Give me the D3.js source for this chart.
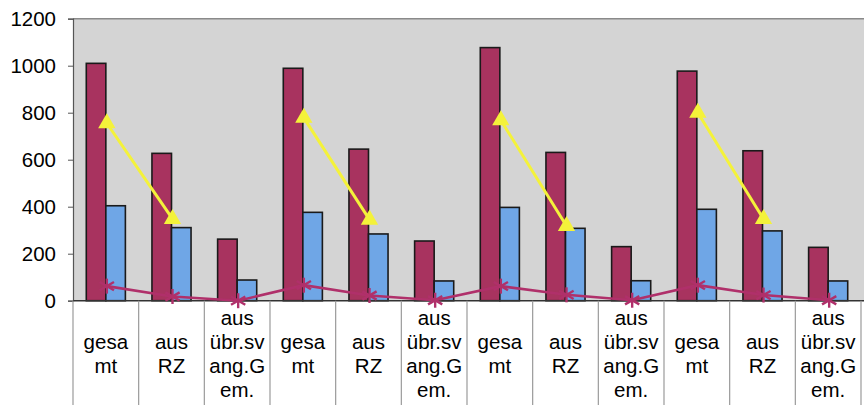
<!DOCTYPE html>
<html>
<head>
<meta charset="utf-8">
<script src="https://cdn.jsdelivr.net/npm/d3@7"></script>
<style>
  html, body { margin: 0; padding: 0; background: #fff; }
  svg { display: block; }
  text { font-family: Arial, "Liberation Sans", sans-serif; fill: #000; }
</style>
</head>
<body>
<svg id="chart" width="864" height="410"></svg>
<script>
// Category labels (each line of the wrapped label)
const categories = [
  ["gesa", "mt"], ["aus", "RZ"], ["aus", "übr.sv", "ang.G", "em."],
  ["gesa", "mt"], ["aus", "RZ"], ["aus", "übr.sv", "ang.G", "em."],
  ["gesa", "mt"], ["aus", "RZ"], ["aus", "übr.sv", "ang.G", "em."],
  ["gesa", "mt"], ["aus", "RZ"], ["aus", "übr.sv", "ang.G", "em."]
];
// Series values
const redValues    = [1010, 627, 262, 989, 645, 254, 1077, 631, 230, 977, 638, 227];
const blueValues   = [404, 311, 88, 376, 284, 84, 397, 308, 85, 389, 297, 84];
const yellowValues = [755, 348, null, 778, 345, null, 768, 318, null, 800, 348, null];
const purpleValues = [62, 18, 0, 66, 22, 2, 62, 25, 2, 66, 24, 2];
const yTicks = [0, 200, 400, 600, 800, 1000, 1200];

const svg = d3.select("#chart");
const plotLeft = 73, plotRight = 861, plotTop = 18.7, plotBottom = 300.7, labelBottom = 405;

const idx = d3.range(categories.length);
const x0 = d3.scaleBand().domain(idx).range([plotLeft, plotRight]).padding(0);
const x1 = d3.scaleBand().domain(["red", "blue"]).range([0, x0.bandwidth()])
  .paddingInner(0).paddingOuter(0.68);
const y = d3.scaleLinear().domain([0, 1200]).range([plotBottom, plotTop]);
const cx = i => x0(i) + x0.bandwidth() / 2 + 1;

// Plot area background
svg.append("rect")
  .attr("x", plotLeft).attr("y", plotTop)
  .attr("width", 864 - plotLeft).attr("height", plotBottom - plotTop)
  .attr("fill", "#d4d4d4");
svg.append("line")
  .attr("x1", plotLeft).attr("x2", 864).attr("y1", plotTop).attr("y2", plotTop)
  .attr("stroke", "#8a8a8a").attr("stroke-width", 1.5);

// Y axis
const yAxis = d3.axisLeft(y).tickValues(yTicks).tickFormat(d3.format("d"))
  .tickSize(5).tickPadding(12);
const gy = svg.append("g").attr("transform", `translate(${plotLeft},0)`).call(yAxis);
gy.select(".domain").attr("stroke", "#555").attr("stroke-width", 1.2);
gy.selectAll(".tick line").attr("stroke", "#555");
gy.selectAll(".tick text")
  .style("font-size", "20.5px")
  .style("font-family", "Arial, 'Liberation Sans', sans-serif")
  .attr("fill", "#000");

// Bars
const bars = svg.append("g");
idx.forEach(i => {
  bars.append("rect")
    .attr("x", x0(i) + x1("red")).attr("width", x1.bandwidth())
    .attr("y", y(redValues[i])).attr("height", y(0) - y(redValues[i]))
    .attr("fill", "#a8335f").attr("stroke", "#1a1a1a").attr("stroke-width", 1.6);
  bars.append("rect")
    .attr("x", x0(i) + x1("blue")).attr("width", x1.bandwidth())
    .attr("y", y(blueValues[i])).attr("height", y(0) - y(blueValues[i]))
    .attr("fill", "#6fa6e6").attr("stroke", "#1a1a1a").attr("stroke-width", 1.6);
});

// Yellow line with triangle markers (gaps where no value)
const yellowLine = d3.line()
  .defined(d => d != null)
  .x((d, i) => cx(i))
  .y(d => y(d));
svg.append("path")
  .datum(yellowValues)
  .attr("d", yellowLine)
  .attr("fill", "none").attr("stroke", "#f4f23a").attr("stroke-width", 3);
const tri = d3.symbol().type(d3.symbolTriangle).size(130);
svg.append("g").selectAll("path")
  .data(idx.filter(i => yellowValues[i] != null))
  .join("path")
  .attr("d", tri)
  .attr("transform", i => `translate(${cx(i)},${y(yellowValues[i])})`)
  .attr("fill", "#f4f23a");

// Bottom axis line
svg.append("line")
  .attr("x1", plotLeft).attr("x2", 864).attr("y1", plotBottom).attr("y2", plotBottom)
  .attr("stroke", "#333").attr("stroke-width", 1.5);

// Purple line with star markers
const purpleLine = d3.line().x((d, i) => cx(i)).y(d => y(d));
svg.append("path")
  .datum(purpleValues)
  .attr("d", purpleLine)
  .attr("fill", "none").attr("stroke", "#b0306a").attr("stroke-width", 2.6);
const star = svg.append("g");
idx.forEach(i => {
  const px = cx(i), py = y(purpleValues[i]), r = 7.5;
  [[0, 1], [0.95, 0.55], [-0.95, 0.55]].forEach(([dx, dy]) => {
    star.append("line")
      .attr("x1", px - dx * r).attr("y1", py - dy * r)
      .attr("x2", px + dx * r).attr("y2", py + dy * r)
      .attr("stroke", "#b0306a").attr("stroke-width", 2.4);
  });
});

// Category separators in the label area
svg.append("g").selectAll("line")
  .data(d3.range(categories.length + 1))
  .join("line")
  .attr("x1", i => i < categories.length ? x0(i) : plotRight)
  .attr("x2", i => i < categories.length ? x0(i) : plotRight)
  .attr("y1", plotBottom).attr("y2", labelBottom)
  .attr("stroke", "#9a9a9a").attr("stroke-width", 1.2);

// Category labels, vertically centred in the label area
const lineH = 24;
const labelMid = 354;
const lg = svg.append("g");
idx.forEach(i => {
  const lines = categories[i];
  const t = lg.append("text")
    .attr("text-anchor", "middle")
    .style("font-size", "20.5px");
  lines.forEach((s, k) => {
    t.append("tspan")
      .attr("x", cx(i) - 1)
      .attr("y", labelMid + (k - (lines.length - 1) / 2) * lineH)
      .attr("dy", "0.35em")
      .text(s);
  });
});
</script>
</body>
</html>
